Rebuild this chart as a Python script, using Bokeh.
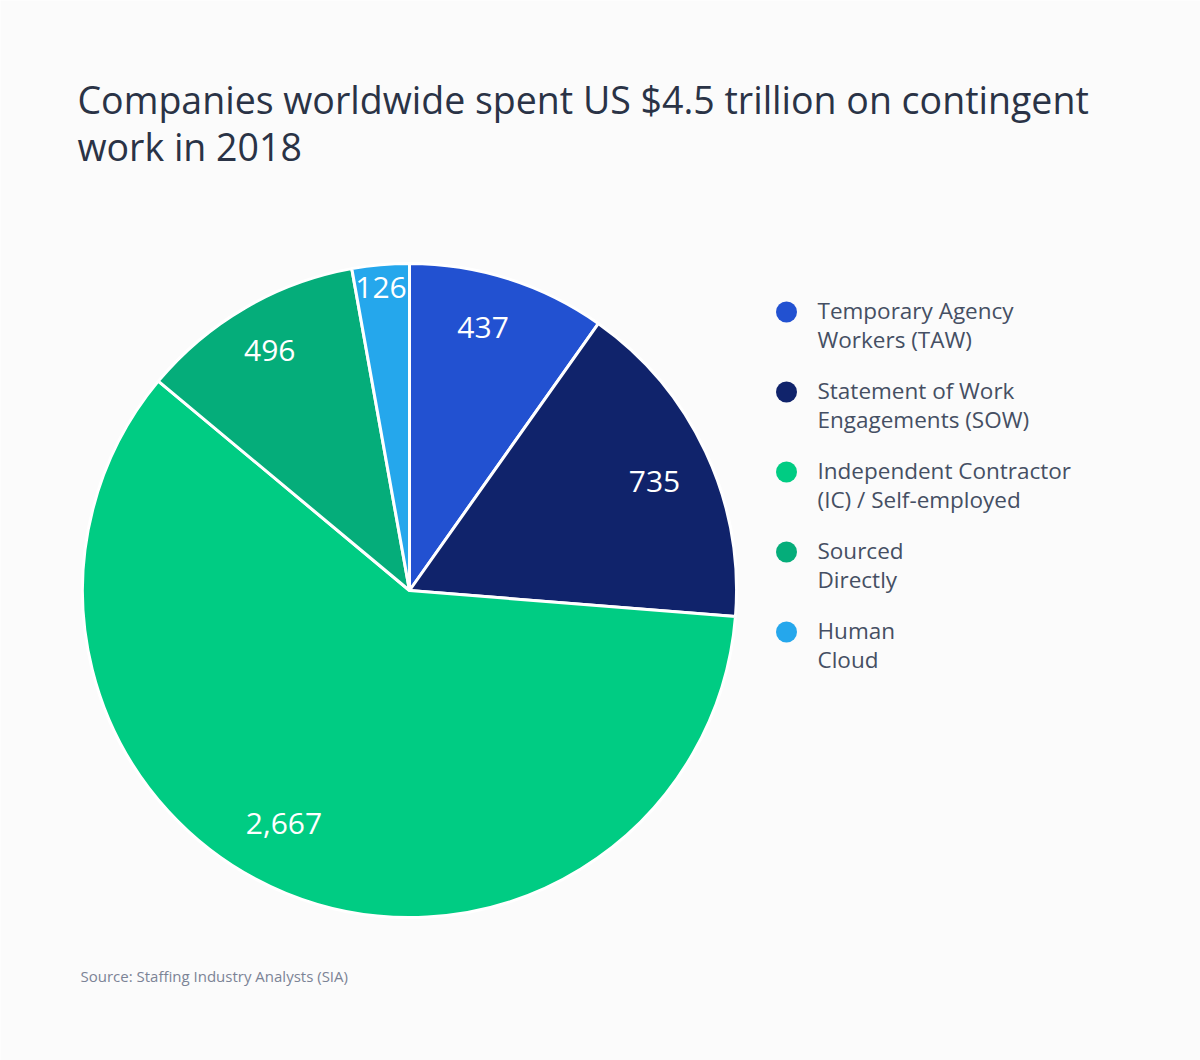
import math
from bokeh.plotting import figure
from bokeh.models import ColumnDataSource, Range1d
from bokeh.core.properties import value
from bokeh.embed import file_html
from bokeh.resources import INLINE

# ---- data ----
categories = ["Temporary Agency Workers (TAW)", "Statement of Work Engagements (SOW)",
              "Independent Contractor (IC) / Self-employed", "Sourced Directly", "Human Cloud"]
values = [437, 735, 2667, 496, 126]
value_labels = ["437", "735", "2,667", "496", "126"]
legend_line1 = ["Temporary Agency", "Statement of Work", "Independent Contractor", "Sourced", "Human"]
legend_line2 = ["Workers (TAW)", "Engagements (SOW)", "(IC) / Self-employed", "Directly", "Cloud"]
colors = ["#2251d1", "#10236b", "#00cc83", "#05ad7a", "#25a7ec"]
title_lines = ["Companies worldwide spent US $4.5 trillion on contingent", "work in 2018"]
source_text = "Source: Staffing Industry Analysts (SIA)"

W, H = 1200, 1060
FONT = "Open Sans"
BG = "#fbfbfb"

def Y(screen_y):
    return H - screen_y

def X(screen_x):
    return screen_x

p = figure(width=W, height=H, output_backend="svg", toolbar_location=None,
           x_range=Range1d(0, W), y_range=Range1d(0, H), min_border=0,
           background_fill_color=BG, border_fill_color=BG, outline_line_color=None)
p.axis.visible = False
p.grid.visible = False

# ---- pie ----
cx, cy, R = X(409), Y(590), 327
total = sum(values)
starts, ends, mids = [], [], []
a = math.pi / 2
for v in values:
    span = v / total * 2 * math.pi
    starts.append(a - span)
    ends.append(a)
    mids.append(a - span / 2)
    a -= span

src = ColumnDataSource(dict(start=starts, end=ends, color=colors, cat=categories, val=values))
p.wedge(x=cx, y=cy, radius=R, start_angle="start", end_angle="end", fill_color="color",
        line_color="white", line_width=3, source=src)

# label placement styling (radius fraction, angular nudge in degrees)
lab_r = [0.835, 0.82, 0.81, 0.85, 0.93]
lab_da = [2.0, -1.1, -6.1, 0.0, 0.3]
lx = [cx + R * r * math.cos(m + math.radians(d)) for r, m, d in zip(lab_r, mids, lab_da)]
ly = [cy + R * r * math.sin(m + math.radians(d)) for r, m, d in zip(lab_r, mids, lab_da)]
p.text(x=lx, y=ly, text=value_labels, text_color="white", text_font=value(FONT),
       text_font_size="30px", text_align="center", text_baseline="middle")

# ---- title ----
p.text(x=[X(77)] * 2, y=[Y(99), Y(146)], text=title_lines, text_color="#2a3346",
       text_font=value(FONT), text_font_size="37.5px", text_baseline="alphabetic")

# ---- legend ----
n = len(categories)
p.scatter(x=[X(786)] * n, y=[Y(311.5 + 80 * i) for i in range(n)], size=21,
          fill_color=colors, line_color=None)
p.text(x=[X(817)] * n, y=[Y(309.5 + 80 * i) for i in range(n)], text=legend_line1,
       text_color="#454f63", text_font=value(FONT), text_font_size="22.5px",
       text_baseline="alphabetic")
p.text(x=[X(817)] * n, y=[Y(338.5 + 80 * i) for i in range(n)], text=legend_line2,
       text_color="#454f63", text_font=value(FONT), text_font_size="22.5px",
       text_baseline="alphabetic")

# ---- source ----
p.text(x=[X(80)], y=[Y(975.5)], text=[source_text], text_color="#7b8396",
       text_font=value(FONT), text_font_size="15px", text_baseline="alphabetic")

html = file_html(p, INLINE)
html = html.replace("<body>", '<body style="background:%s">' % BG, 1)
open("out.html", "w").write(html)
